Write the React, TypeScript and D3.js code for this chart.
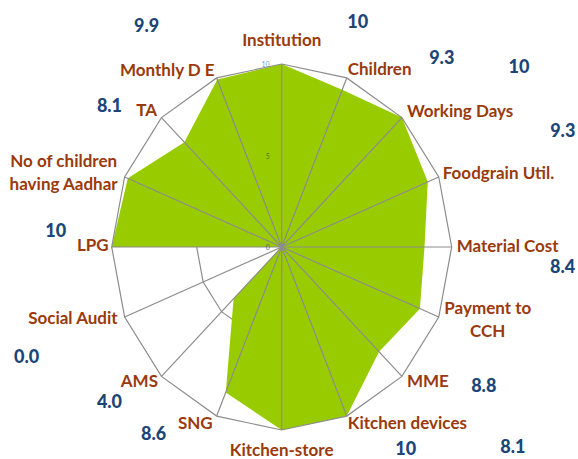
import React from "react";
import * as d3 from "d3";

// ---- data ----
const categories: string[][] = [
  ["Institution"],
  ["Children"],
  ["Working Days"],
  ["Foodgrain Util."],
  ["Material Cost"],
  ["Payment to", "CCH"],
  ["MME"],
  ["Kitchen devices"],
  ["Kitchen-store"],
  ["SNG"],
  ["AMS"],
  ["Social Audit"],
  ["LPG"],
  ["No of children", "having Aadhar"],
  ["TA"],
  ["Monthly D E"],
];
const scores: number[] = [10, 9.3, 10, 9.3, 8.4, 8.8, 8.1, 10, 10, 8.6, 4.0, 0.0, 10, 9.8, 8.1, 9.9];
const showScore: boolean[] = [true, true, true, true, true, true, true, true, false, true, true, true, true, false, true, true];
const tickValues: number[] = [0, 5, 10];

// ---- layout ----
const W = 578;
const H = 459;
const CX = 281.7;
const CY = 247;
const RX = 170;
const RY = 183;

// category label offsets from axis tip: [dx, dy, anchor]
const labelLayout: [number, number, string][] = [
  [0, -18, "middle"],
  [1, -3, "start"],
  [5, -1, "start"],
  [4, 2, "start"],
  [5, 5, "start"],
  [49, -3, "middle"],
  [5, 11, "start"],
  [1, 13, "start"],
  [0, 26, "middle"],
  [-4, 13, "end"],
  [-3.5, 11, "end"],
  [-7, 7, "end"],
  [-3, 4, "end"],
  [-61, -10, "middle"],
  [-4.5, -1.5, "end"],
  [-2, -2, "end"],
];
// score annotation offsets from axis tip (centre, baseline)
const scoreLayout: [number, number][] = [
  [76, -36],
  [95, -14],
  [117, -45],
  [124, -40],
  [111, 26],
  [45, 75],
  [111, 77],
  [59, 39],
  [0, 0],
  [-63, 24],
  [-52, 32],
  [-98, 46],
  [-56, -10],
  [0, 0],
  [-52, -6],
  [-70, -46],
];

const LABEL_COLOR = "#9A3A0C";
const SCORE_COLOR = "#1C4677";
const FILL = "#99CC00";
const GRID = "#8C8C8C";

export default function App() {
  const n = categories.length;
  const angle = d3.scaleLinear().domain([0, n]).range([0, 2 * Math.PI]);
  const rx = d3.scaleLinear().domain([0, 10]).range([0, RX]);
  const ry = d3.scaleLinear().domain([0, 10]).range([0, RY]);
  const pt = (i: number, v: number): [number, number] => [
    CX + rx(v) * Math.sin(angle(i)),
    CY - ry(v) * Math.cos(angle(i)),
  ];
  const line = d3.line<[number, number]>().curve(d3.curveLinearClosed);
  const ring = (v: number) => line(d3.range(n).map((i) => pt(i, v))) as string;
  const area = line(scores.map((s, i) => pt(i, s))) as string;
  const fmt = (v: number) => (v === 10 ? "10" : d3.format(".1f")(v));

  return (
    <svg
      width={W}
      height={H}
      style={{ position: "absolute", left: 0, top: 0, background: "#fff" }}
      fontFamily="Lato, 'Open Sans', sans-serif"
    >
      <rect width={W} height={H} fill="#fff" />
      <path d={ring(5)} fill="none" stroke={GRID} strokeWidth={1.2} />
      <path d={area} fill={FILL} stroke="none" />
      {d3.range(n).map((i) => {
        const [x, y] = pt(i, 10);
        return <line key={"s" + i} x1={CX} y1={CY} x2={x} y2={y} stroke={GRID} strokeWidth={1.2} />;
      })}
      <path d={ring(10)} fill="none" stroke={GRID} strokeWidth={1.2} />
      {tickValues.map((t) => (
        <text
          key={"t" + t}
          x={CX - 12}
          y={CY - ry(t) + 3}
          fontSize={7}
          textAnchor="end"
          fill={t === 5 ? "#557700" : t === 10 ? "#7A9AC0" : "#666"}
        >
          {t}
        </text>
      ))}
      {categories.map((lines, i) => {
        const [x, y] = pt(i, 10);
        const [dx, dy, anchor] = labelLayout[i];
        return (
          <text
            key={"l" + i}
            x={x + dx}
            y={y + dy}
            fontSize={17}
            fontWeight="bold"
            fill={LABEL_COLOR}
            textAnchor={anchor as any}
          >
            {lines.map((s, k) => (
              <tspan key={k} x={x + dx} dy={k === 0 ? 0 : 23}>
                {s}
              </tspan>
            ))}
          </text>
        );
      })}
      {scores.map((s, i) => {
        if (!showScore[i]) return null;
        const [x, y] = pt(i, 10);
        const [dx, dy] = scoreLayout[i];
        return (
          <text
            key={"v" + i}
            x={x + dx}
            y={y + dy}
            fontSize={18}
            fontWeight={900}
            fill={SCORE_COLOR}
            textAnchor="middle"
          >
            {fmt(s)}
          </text>
        );
      })}
    </svg>
  );
}
